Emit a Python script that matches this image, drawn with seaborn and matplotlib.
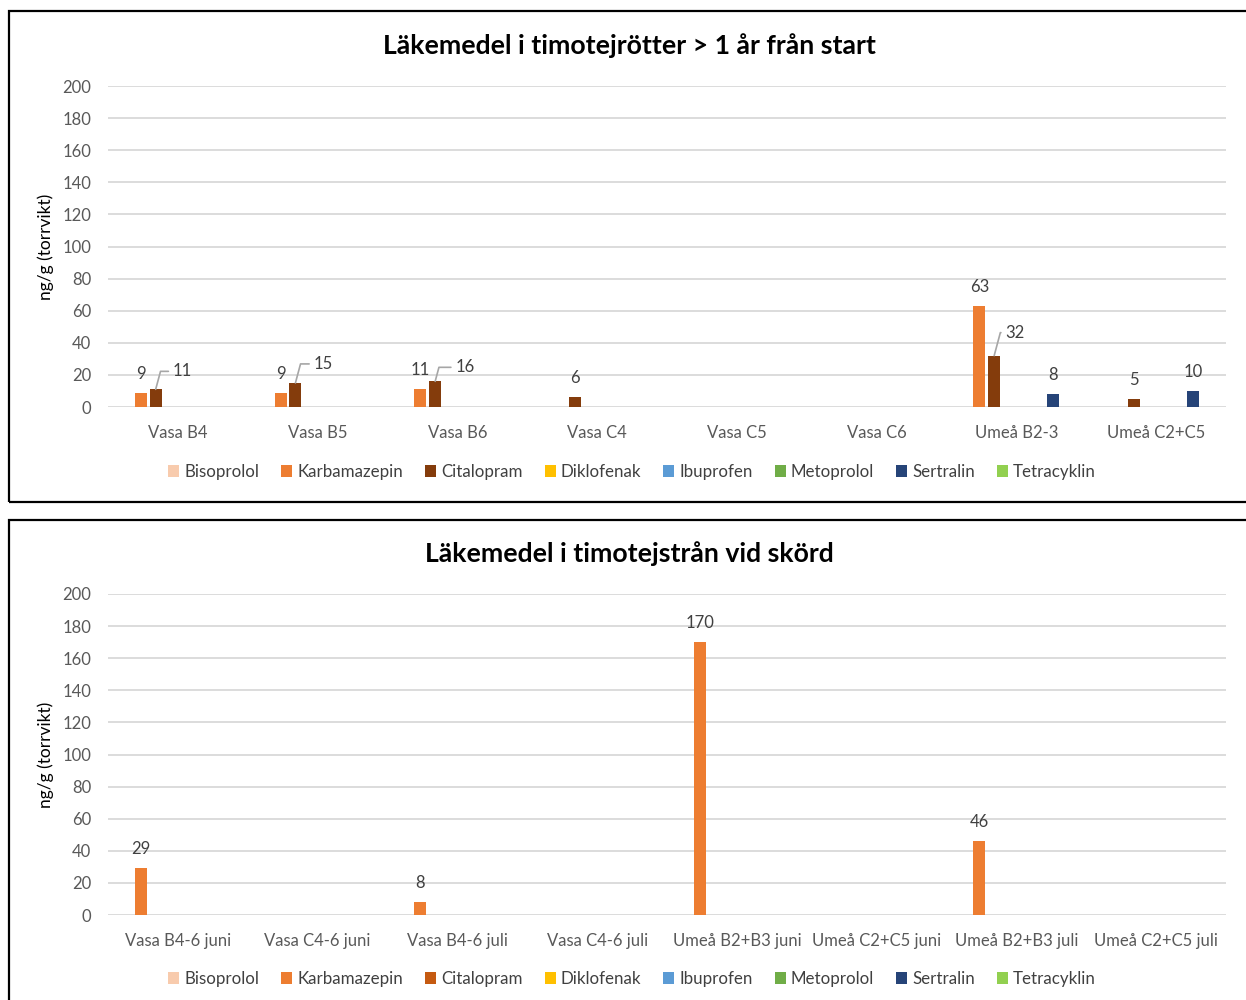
import numpy as np
import pandas as pd
import matplotlib
matplotlib.use("Agg")
import matplotlib.pyplot as plt
from matplotlib.patches import Patch, Rectangle
import seaborn as sns

# ---------------- data ----------------
series = ["Bisoprolol", "Karbamazepin", "Citalopram", "Diklofenak",
          "Ibuprofen", "Metoprolol", "Sertralin", "Tetracyklin"]

cats_top = ["Vasa B4", "Vasa B5", "Vasa B6", "Vasa C4", "Vasa C5",
            "Vasa C6", "Umeå B2-3", "Umeå C2+C5"]
top_bisoprolol = [0, 0, 0, 0, 0, 0, 0, 0]
top_karbamazepin = [9, 9, 11, 0, 0, 0, 63, 0]
top_citalopram = [11, 15, 16, 6, 0, 0, 32, 5]
top_diklofenak = [0, 0, 0, 0, 0, 0, 0, 0]
top_ibuprofen = [0, 0, 0, 0, 0, 0, 0, 0]
top_metoprolol = [0, 0, 0, 0, 0, 0, 0, 0]
top_sertralin = [0, 0, 0, 0, 0, 0, 8, 10]
top_tetracyklin = [0, 0, 0, 0, 0, 0, 0, 0]

cats_bot = ["Vasa B4-6 juni", "Vasa C4-6 juni", "Vasa B4-6 juli", "Vasa C4-6 juli",
            "Umeå B2+B3 juni", "Umeå C2+C5 juni", "Umeå B2+B3 juli", "Umeå C2+C5 juli"]
bot_bisoprolol = [0, 0, 0, 0, 0, 0, 0, 0]
bot_karbamazepin = [29, 0, 8, 0, 170, 0, 46, 0]
bot_citalopram = [0, 0, 0, 0, 0, 0, 0, 0]
bot_diklofenak = [0, 0, 0, 0, 0, 0, 0, 0]
bot_ibuprofen = [0, 0, 0, 0, 0, 0, 0, 0]
bot_metoprolol = [0, 0, 0, 0, 0, 0, 0, 0]
bot_sertralin = [0, 0, 0, 0, 0, 0, 0, 0]
bot_tetracyklin = [0, 0, 0, 0, 0, 0, 0, 0]

yticks = [0, 20, 40, 60, 80, 100, 120, 140, 160, 180, 200]
title_top = "Läkemedel i timotejrötter > 1 år från start"
title_bot = "Läkemedel i timotejstrån vid skörd"
ylabel = "ng/g (torrvikt)"

# ---------------- styles ----------------
colors_top = ["#F8CBAD", "#ED7D31", "#843C0C", "#FFC000",
              "#5B9BD5", "#70AD47", "#264478", "#92D050"]
colors_bot = ["#F8CBAD", "#ED7D31", "#C55A11", "#FFC000",
              "#5B9BD5", "#70AD47", "#264478", "#92D050"]

# label offsets in pixels (dx, dy) for labels drawn with a leader line
leader_top = {("Citalopram", "Vasa B4"): (27, 18),
              ("Citalopram", "Vasa B5"): (28, 19),
              ("Citalopram", "Vasa B6"): (30, 14),
              ("Citalopram", "Umeå B2-3"): (21, 23)}

sns.set_theme(style="white")
FONT = ["Lato", "DejaVu Sans"]
plt.rcParams["font.family"] = FONT

W, H = 1246, 1000
fig = plt.figure(figsize=(W / 100, H / 100), dpi=100)


def long_df(cats, cols):
    rows = []
    for s, vals in zip(series, cols):
        for c, v in zip(cats, vals):
            rows.append({"cat": c, "series": s, "val": v})
    return pd.DataFrame(rows)


def draw(ax, cats, cols, colors, title, leaders, title_y):
    df = long_df(cats, cols)
    sns.barplot(data=df, x="cat", y="val", hue="series", order=cats,
                hue_order=series, palette=colors, saturation=1,
                width=0.847, gap=0.19, errorbar=None, linewidth=0,
                legend=False, ax=ax)
    ax.set_ylim(0, 200)
    ax.set_xlim(-0.5, len(cats) - 0.5)
    ax.set_yticks(yticks)
    ax.grid(axis="y", color="#D9D9D9", linewidth=1.3)
    ax.grid(axis="x", visible=False)
    ax.set_axisbelow(True)
    for sp in ax.spines.values():
        sp.set_visible(False)
    ax.tick_params(axis="both", length=0, labelsize=12, colors="#595959")
    ax.tick_params(axis="y", pad=12)
    ax.tick_params(axis="x", pad=13)
    ax.set_xlabel("")
    ax.set_ylabel(ylabel, fontsize=12.5, color="#000000")
    ax.yaxis.set_label_coords(-0.048, 0.5)
    for i, cont in enumerate(ax.containers):
        s = series[i]
        for j, bar in enumerate(cont):
            h = bar.get_height()
            if not h or h <= 0:
                continue
            xc = bar.get_x() + bar.get_width() / 2
            key = (s, cats[j])
            if key in leaders:
                dx, dy = leaders[key]
                ax.annotate(f"{h:g}", xy=(xc, h), xytext=(dx, dy),
                            textcoords="offset pixels", ha="center", va="center",
                            fontsize=12, color="#404040",
                            arrowprops=dict(arrowstyle="-", color="#A6A6A6", lw=1.2,
                                            relpos=(0, 0.5), shrinkA=1, shrinkB=0,
                                            connectionstyle="angle,angleA=0,angleB=75,rad=0"))
            else:
                ax.annotate(f"{h:g}", xy=(xc, h), xytext=(0, 19),
                            textcoords="offset pixels", ha="center", va="center",
                            fontsize=12, color="#404040")
    fig.text(629 / W, title_y, title, ha="center", va="center",
             fontsize=19.2, fontweight="bold", color="#000000")


ax1 = fig.add_axes([108 / W, 1 - 407 / H, (1226 - 108) / W, 321 / H])
ax2 = fig.add_axes([108 / W, 1 - 915 / H, (1226 - 108) / W, 321 / H])

draw(ax1, cats_top, [top_bisoprolol, top_karbamazepin, top_citalopram, top_diklofenak,
                     top_ibuprofen, top_metoprolol, top_sertralin, top_tetracyklin],
     colors_top, title_top, leader_top, 1 - 46 / H)
draw(ax2, cats_bot, [bot_bisoprolol, bot_karbamazepin, bot_citalopram, bot_diklofenak,
                     bot_ibuprofen, bot_metoprolol, bot_sertralin, bot_tetracyklin],
     colors_bot, title_bot, {}, 1 - 554 / H)

for colors, ly in [(colors_top, 1 - 472 / H), (colors_bot, 1 - 979 / H)]:
    handles = [Patch(facecolor=c, edgecolor="none", label=s) for s, c in zip(series, colors)]
    fig.legend(handles=handles, loc="center", bbox_to_anchor=(632 / W, ly), ncol=8,
               frameon=False, fontsize=12.2, handlelength=0.65, handleheight=0.65,
               handletextpad=0.3, columnspacing=1.3, labelcolor="#404040")

# panel borders
fig.add_artist(Rectangle((9 / W, 1 - 502 / H), 1.0, 491 / H, transform=fig.transFigure,
                         fill=False, edgecolor="black", linewidth=1.6))
fig.add_artist(Rectangle((9 / W, -0.1), 1.0, (1000 - 520) / H + 0.1, transform=fig.transFigure,
                         fill=False, edgecolor="black", linewidth=1.6))

fig.savefig("out.png", dpi=100)
